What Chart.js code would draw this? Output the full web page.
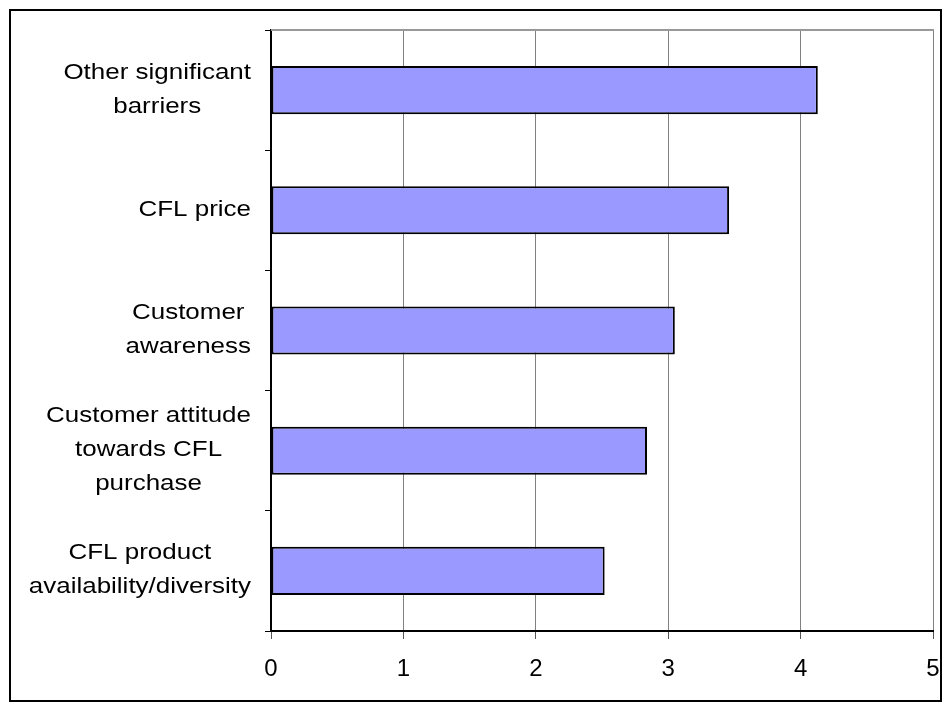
<!DOCTYPE html>
<html>
<head>
<meta charset="utf-8">
<script src="https://cdn.jsdelivr.net/npm/chart.js@4.4.0/dist/chart.umd.min.js"></script>
<style>
    body { margin: 0; background: #ffffff; }
    #chartBox {
        position: absolute;
        left: 9px;
        top: 9px;
        width: 929px;
        height: 689px;
        border: 2px solid #000000;
        background: #ffffff;
    }
</style>
</head>
<body>
<div id="chartBox"><canvas id="barriersChart" width="929" height="689"></canvas></div>
<script>
// categories, top to bottom
const barrierLabels = [
    ["Other significant", "barriers"],
    ["CFL price"],
    ["Customer", "awareness"],
    ["Customer attitude", "towards CFL", "purchase"],
    ["CFL product", "availability/diversity"]
]
const barrierScores = [4.13, 3.46, 3.05, 2.84, 2.52]
const xTicks = [0, 1, 2, 3, 4, 5]

const labelFont = '22px "Liberation Sans", Arial, sans-serif'

// grey frame on top of the plot area
const plotTopLine = {
    id: 'plotTopLine',
    afterDraw(chart) {
        const ctx = chart.ctx
        const area = chart.chartArea
        ctx.save()
        ctx.strokeStyle = '#999999'
        ctx.lineWidth = 2
        ctx.beginPath()
        ctx.moveTo(area.left, area.top)
        ctx.lineTo(area.right + 1, area.top)
        ctx.stroke()
        ctx.restore()
    }
}

// category labels: each block centered on itself, right edge near the axis
const categoryText = {
    id: 'categoryText',
    afterDraw(chart) {
        const ctx = chart.ctx
        const yScale = chart.scales.y
        const stretch = 1.18
        const lineGap = 34
        const rightEdge = chart.chartArea.left - 20
        ctx.save()
        ctx.font = labelFont
        ctx.fillStyle = '#000000'
        ctx.textAlign = 'center'
        ctx.textBaseline = 'alphabetic'
        barrierLabels.forEach((lines, i) => {
            const center = yScale.getPixelForValue(i)
            let widest = 0
            lines.forEach(line => {
                widest = Math.max(widest, ctx.measureText(line).width * stretch)
            })
            const cx = rightEdge - widest / 2
            lines.forEach((line, j) => {
                const base = center + (j - (lines.length - 1) / 2) * lineGap + 5.5
                ctx.save()
                ctx.translate(cx, base)
                ctx.scale(stretch, 1)
                ctx.fillText(line, 0, 0)
                ctx.restore()
            })
        })
        ctx.restore()
    }
}

const chartConfig = {
    type: 'bar',
    data: {
        labels: barrierLabels.map(l => l.join(' ')),
        datasets: [{
            data: barrierScores,
            backgroundColor: '#9999ff',
            borderColor: '#000000',
            borderWidth: 2,
            borderSkipped: false,
            categoryPercentage: 0.4,
            barPercentage: 1
        }]
    },
    options: {
        indexAxis: 'y',
        responsive: false,
        animation: false,
        layout: { padding: { top: 19, right: 7, bottom: 0, left: 0 } },
        plugins: {
            legend: { display: false },
            tooltip: { enabled: false }
        },
        scales: {
            x: {
                min: xTicks[0],
                max: xTicks[xTicks.length - 1],
                afterBuildTicks(scale) {
                    scale.ticks = xTicks.map(v => ({ value: v }))
                },
                afterFit(scale) {
                    scale.height = 69
                    // no extra room for the last label, the frame handles it
                    scale.paddingLeft = 0
                    scale.paddingRight = 0
                },
                grid: {
                    color: '#808080',
                    lineWidth: 1,
                    tickLength: 8,
                    tickColor: '#555555'
                },
                border: { color: '#000000', width: 2 },
                ticks: {
                    color: '#000000',
                    padding: 16,
                    font: { family: '"Liberation Sans", Arial, sans-serif', size: 24 }
                }
            },
            y: {
                offset: true,
                afterFit(scale) { scale.width = 260 },
                grid: {
                    offset: true,
                    drawOnChartArea: false,
                    tickLength: 6,
                    color: '#000000'
                },
                border: { color: '#000000', width: 2 },
                ticks: { display: false }
            }
        }
    },
    plugins: [plotTopLine, categoryText]
}

const barriersChart = new Chart(document.getElementById('barriersChart'), chartConfig)
</script>
</body>
</html>
